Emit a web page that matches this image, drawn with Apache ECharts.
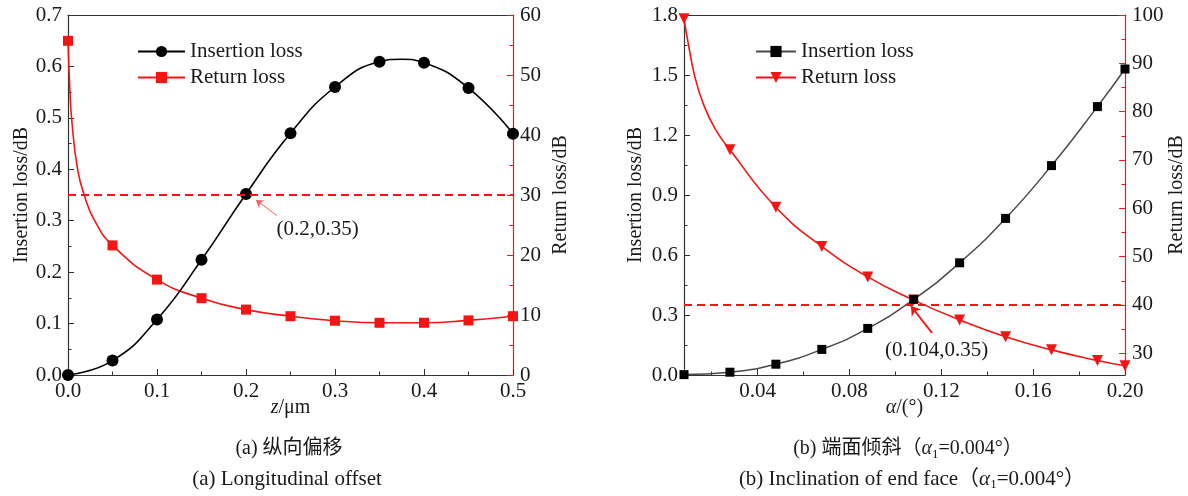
<!DOCTYPE html>
<html>
<head>
<meta charset="utf-8">
<script src="https://cdn.jsdelivr.net/npm/echarts@6.0.0/dist/echarts.min.js"></script>
<style>
  html, body { margin: 0; padding: 0; background: #fff; }
  #chart { width: 1188px; height: 496px; }
</style>
</head>
<body>
<div id="chart"></div>
<script>
// (a) longitudinal offset
var zOffset = [0, 0.05, 0.1, 0.15, 0.2, 0.25, 0.3, 0.35, 0.4, 0.45, 0.5];
var ilOffset = [0, 0.028, 0.108, 0.224, 0.352, 0.47, 0.56, 0.609, 0.607, 0.558, 0.469];
var rlOffset = [55.7, 21.6, 15.9, 12.8, 10.9, 9.8, 9.05, 8.7, 8.7, 9.1, 9.8];
var zPeak = [0.375];
var ilPeak = [0.614];
var zCurve = [0.002, 0.0042, 0.0109, 0.0191, 0.0296];
var rlCurveA = [48, 42.5, 34.2, 29.6, 25.8];

// (b) end face inclination
var alpha = [0.008, 0.028, 0.048, 0.068, 0.088, 0.108, 0.128, 0.148, 0.168, 0.188, 0.2];
var ilTilt = [0.002, 0.014, 0.054, 0.128, 0.233, 0.378, 0.561, 0.783, 1.047, 1.342, 1.53];
var rlTilt = [99.2, 72.1, 60.2, 52.1, 45.8, 41.0, 36.9, 33.4, 30.7, 28.5, 27.4];
var alphaCurve = [0.00985, 0.01274, 0.0165, 0.0215];
var rlCurveB = [94.1, 87.2, 81.5, 76.5];

// tick labels of the tilted axes
var alphaTicks = [0.04, 0.08, 0.12, 0.16, 0.2];
var alphaMinor = [0.02, 0.06, 0.1, 0.14, 0.18];
var rlTiltTicks = [30, 40, 50, 60, 70, 80, 90, 100];
var rlTiltMinor = [35, 45, 55, 65, 75, 85, 95];

var serif = '"Liberation Serif", "Times New Roman", "Noto Sans CJK SC", serif';
var red = '#f41414';
var ink = '#1a1a1a';

function buildLine(xs, ys, cx, cy) {
  var pts = xs.map(function (x, i) { return { value: [x, ys[i]] }; });
  (cx || []).forEach(function (x, i) {
    pts.push({ value: [x, cy[i]], symbol: 'none' });
  });
  pts.sort(function (a, b) { return a.value[0] - b.value[0]; });
  return pts;
}

var labelStyle = { color: ink, fontSize: 21, fontFamily: serif };
var nameStyle = { color: ink, fontSize: 20, fontFamily: serif, rich: { i: { fontStyle: 'italic', fontSize: 20, fontFamily: serif, color: ink } } };

function valueAxis(extra) {
  var ax = {
    type: 'value',
    axisLine: { show: true, onZero: false, lineStyle: { color: '#333', width: 1.2 } },
    axisTick: { show: true, inside: true, length: 6, lineStyle: { color: '#333' } },
    minorTick: { show: true, splitNumber: 2, length: 3.5, lineStyle: { color: '#333' } },
    axisLabel: Object.assign({ margin: 6 }, labelStyle),
    splitLine: { show: false },
    nameTextStyle: nameStyle,
    nameLocation: 'middle',
    nameMoveOverlap: false
  };
  return Object.assign(ax, extra);
}

function borderAxis(grid, min, max) {
  return {
    type: 'value', gridIndex: grid, position: 'top', min: min, max: max,
    axisLine: { show: true, onZero: false, lineStyle: { color: '#333', width: 1.2 } },
    axisTick: { show: false }, axisLabel: { show: false }, splitLine: { show: false }
  };
}

function legendNames(n) {
  return n.indexOf('IL') === 0 ? 'Insertion loss' : 'Return loss';
}

var getchart = echarts.init(document.getElementById('chart'));
var option = {
  animation: false,
  grid: [
    { left: 68, top: 15, width: 445, height: 360 },
    { left: 684, top: 15, width: 446, height: 360 }
  ],
  legend: [
    {
      data: ['IL_a', 'RL_a'], orient: 'vertical', left: 132, top: 36,
      itemWidth: 47, itemHeight: 14, itemGap: 5,
      formatter: legendNames,
      textStyle: { color: ink, fontSize: 21, fontFamily: serif }
    },
    {
      data: ['IL_b', 'RL_b'], orient: 'vertical', left: 750, top: 36,
      itemWidth: 40, itemHeight: 14, itemGap: 5,
      formatter: legendNames,
      textStyle: { color: ink, fontSize: 21, fontFamily: serif }
    }
  ],
  xAxis: [
    valueAxis({ gridIndex: 0, position: 'bottom', min: 0, max: 0.5, interval: 0.1,
      name: '{i|z}/μm', nameGap: 23,
      axisLabel: Object.assign({ margin: 6, formatter: function (v) { return v.toFixed(1); } }, labelStyle) }),
    borderAxis(0, 0, 0.5),
    valueAxis({ gridIndex: 1, position: 'bottom', min: 0.008, max: 0.2,
      name: '{i|α}/(°)', nameGap: 23,
      minorTick: { show: false },
      axisTick: { show: true, inside: true, length: 6, customValues: alphaTicks, lineStyle: { color: '#333' } },
      axisLabel: Object.assign({ margin: 6, customValues: alphaTicks, formatter: function (v) { return v.toFixed(2); } }, labelStyle) }),
    {
      type: 'value', gridIndex: 1, position: 'bottom', min: 0.008, max: 0.2,
      axisLine: { show: false },
      axisTick: { show: true, inside: true, length: 3.5, customValues: alphaMinor, lineStyle: { color: '#333' } },
      axisLabel: { show: false }, splitLine: { show: false }
    },
    borderAxis(1, 0.008, 0.2)
  ],
  yAxis: [
    valueAxis({ gridIndex: 0, position: 'left', min: 0, max: 0.7, interval: 0.1,
      name: 'Insertion loss/dB', nameGap: 36, nameRotate: 90,
      axisLabel: Object.assign({ margin: 6, formatter: function (v) { return v.toFixed(1); } }, labelStyle) }),
    valueAxis({ gridIndex: 0, position: 'right', min: 0, max: 60, interval: 10,
      name: 'Return loss/dB', nameGap: 38, nameRotate: 90,
      axisLine: { show: true, onZero: false, lineStyle: { color: red, width: 1.2 } },
      axisTick: { show: true, inside: true, length: 6, lineStyle: { color: red } },
      minorTick: { show: true, splitNumber: 2, length: 3.5, lineStyle: { color: red } },
      axisLabel: Object.assign({ margin: 7 }, labelStyle) }),
    valueAxis({ gridIndex: 1, position: 'left', min: 0, max: 1.8, interval: 0.3,
      name: 'Insertion loss/dB', nameGap: 38, nameRotate: 90,
      axisLabel: Object.assign({ margin: 6, formatter: function (v) { return v.toFixed(1); } }, labelStyle) }),
    valueAxis({ gridIndex: 1, position: 'right', min: 25.5, max: 100,
      name: 'Return loss/dB', nameGap: 42, nameRotate: 90,
      axisLine: { show: true, onZero: false, lineStyle: { color: red, width: 1.2 } },
      axisTick: { show: true, inside: true, length: 6, customValues: rlTiltTicks, lineStyle: { color: red } },
      minorTick: { show: false },
      axisLabel: Object.assign({ margin: 7, customValues: rlTiltTicks }, labelStyle) }),
    {
      type: 'value', gridIndex: 1, position: 'right', min: 25.5, max: 100,
      axisLine: { show: false },
      axisTick: { show: true, inside: true, length: 3.5, customValues: rlTiltMinor, lineStyle: { color: red } },
      axisLabel: { show: false }, splitLine: { show: false }
    }
  ],
  series: [
    {
      name: 'IL_a', type: 'line', xAxisIndex: 0, yAxisIndex: 0,
      data: buildLine(zOffset, ilOffset, zPeak, ilPeak),
      smooth: 0.5, symbol: 'circle', symbolSize: 12,
      itemStyle: { color: '#000' }, lineStyle: { color: '#000', width: 1.6 },
      z: 3,
      markLine: {
        silent: true, symbol: 'none', symbolSize: 7, animation: false,
        label: { show: false },
        data: [
          { yAxis: 0.35, lineStyle: { color: red, type: [8, 5], width: 1.8 } },
          [
            { coord: [0.2348, 0.31], lineStyle: { color: '#ff5a5a', type: 'solid', width: 1 } },
            { coord: [0.2112, 0.3403], symbol: 'arrow' }
          ]
        ]
      },
      markPoint: {
        silent: true, symbol: 'circle', symbolSize: 0,
        label: { show: true, position: 'inside', color: ink, fontSize: 21, fontFamily: serif, formatter: '(0.2,0.35)' },
        data: [{ coord: [0.2804, 0.282] }]
      }
    },
    {
      name: 'RL_a', type: 'line', xAxisIndex: 0, yAxisIndex: 1,
      data: buildLine(zOffset, rlOffset, zCurve, rlCurveA),
      smooth: 0.5, symbol: 'rect', symbolSize: 10,
      itemStyle: { color: red }, lineStyle: { color: red, width: 1.6 },
      z: 2
    },
    {
      name: 'IL_b', type: 'line', xAxisIndex: 2, yAxisIndex: 2,
      data: buildLine(alpha, ilTilt),
      smooth: 0.5, symbol: 'rect', symbolSize: 9,
      itemStyle: { color: '#000' }, lineStyle: { color: '#4a4a4a', width: 1.5 },
      z: 3,
      markLine: {
        silent: true, symbol: 'none', symbolSize: 9, animation: false,
        label: { show: false },
        data: [
          { yAxis: 0.35, lineStyle: { color: red, type: [8, 5], width: 1.8 } },
          [
            { coord: [0.116, 0.21], lineStyle: { color: red, type: 'solid', width: 2 } },
            { coord: [0.1068, 0.345], symbol: 'arrow' }
          ]
        ]
      },
      markPoint: {
        silent: true, symbol: 'circle', symbolSize: 0,
        label: { show: true, position: 'inside', color: ink, fontSize: 21, fontFamily: serif, formatter: '(0.104,0.35)' },
        data: [{ coord: [0.118, 0.125] }]
      }
    },
    {
      name: 'RL_b', type: 'line', xAxisIndex: 2, yAxisIndex: 3,
      data: buildLine(alpha, rlTilt, alphaCurve, rlCurveB),
      smooth: 0.5, symbol: 'triangle', symbolRotate: 180, symbolSize: 11,
      itemStyle: { color: red }, lineStyle: { color: red, width: 1.6 },
      z: 2
    }
  ],
  graphic: [
    { type: 'text', x: 289, y: 449, style: { text: '(a) 纵向偏移', align: 'center', verticalAlign: 'middle', fill: ink, fontSize: 20, fontFamily: serif } },
    { type: 'text', x: 287, y: 479, style: { text: '(a) Longitudinal offset', align: 'center', verticalAlign: 'middle', fill: ink, fontSize: 21, fontFamily: serif } },
    { type: 'text', x: 908, y: 449, style: {
      text: '{t|(b) 端面倾斜（}{i|α}{s|1}{t|=0.004°）}', align: 'center', verticalAlign: 'middle',
      rich: {
        t: { fill: ink, fontSize: 20, fontFamily: serif, lineHeight: 24, verticalAlign: 'middle' },
        i: { fill: ink, fontSize: 20, fontFamily: serif, fontStyle: 'italic', lineHeight: 24, verticalAlign: 'middle' },
        s: { fill: ink, fontSize: 13, fontFamily: serif, lineHeight: 24, verticalAlign: 'bottom' }
      } } },
    { type: 'text', x: 912, y: 479, style: {
      text: '{t|(b) Inclination of end face（}{i|α}{s|1}{t|=0.004°）}', align: 'center', verticalAlign: 'middle',
      rich: {
        t: { fill: ink, fontSize: 21, fontFamily: serif, lineHeight: 24, verticalAlign: 'middle' },
        i: { fill: ink, fontSize: 21, fontFamily: serif, fontStyle: 'italic', lineHeight: 24, verticalAlign: 'middle' },
        s: { fill: ink, fontSize: 13, fontFamily: serif, lineHeight: 24, verticalAlign: 'bottom' }
      } } }
  ]
};

getchart.setOption(option);
window.addEventListener('resize', function () {
  getchart.resize();
});
</script>
</body>
</html>
